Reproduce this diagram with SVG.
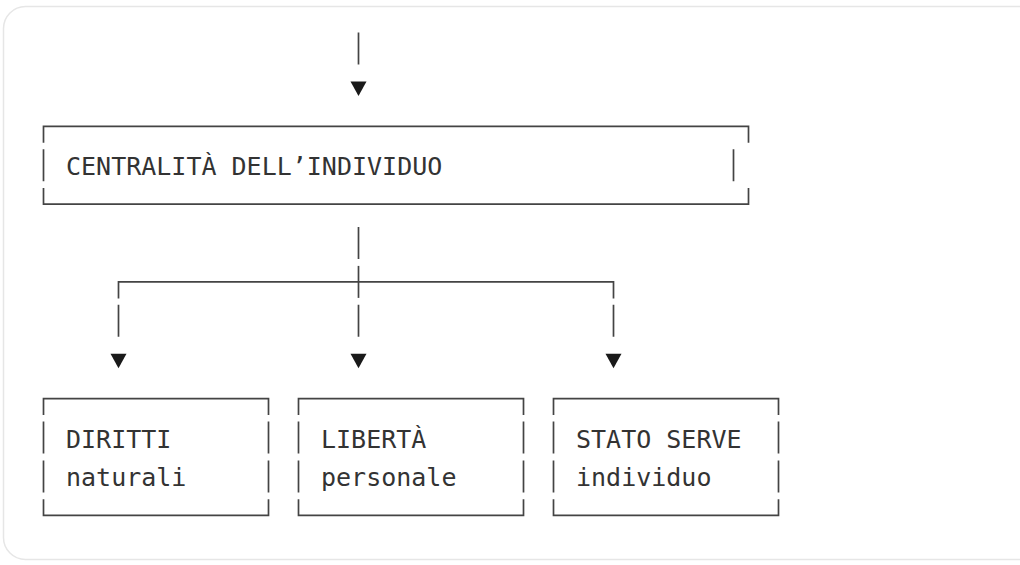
<svg xmlns="http://www.w3.org/2000/svg" width="1020" height="565" viewBox="0 0 1020 565">
<defs>
<style>
.ln{stroke:#444;stroke-width:1.7;fill:none;stroke-linecap:butt}
.ar{fill:#1a1a1a}
.tx{font-family:"DejaVu Sans Mono","Liberation Mono",monospace;font-size:25px;fill:#333}
</style>
</defs>
<rect x="0" y="0" width="1020" height="565" fill="#ffffff"/>
<rect x="3.5" y="6.5" width="1060" height="553" rx="22" ry="22" fill="#ffffff" stroke="#e6e6e6" stroke-width="1.5"/>

<g id="connectors">
  <!-- top incoming arrow -->
  <path class="ln" d="M358.5 32.5V64.5"/>
  <polygon class="ar" points="350.5,81.4 366.5,81.4 358.5,95.9"/>
  <!-- stem from central box -->
  <path class="ln" d="M358.5 227V259"/>
  <!-- branch line -->
  <path class="ln" d="M118.5 298.4V281.9H613.5V298.4"/>
  <path class="ln" d="M358.5 265.9V297.9"/>
  <!-- drops -->
  <path class="ln" d="M118.5 304.8V336.8M358.5 304.8V336.8M613.5 304.8V336.8"/>
  <polygon class="ar" points="110.5,353.7 126.5,353.7 118.5,368.2"/>
  <polygon class="ar" points="350.5,353.7 366.5,353.7 358.5,368.2"/>
  <polygon class="ar" points="605.5,353.7 621.5,353.7 613.5,368.2"/>
</g>

<g id="node-centralita">
  <path class="ln" d="M43.5 142.8V126.3H748.5V142.8"/>
  <path class="ln" d="M43.5 149.2V181.2M733.5 149.2V181.2"/>
  <path class="ln" d="M43.5 188.1V204.1H748.5V188.1"/>
  <text class="tx" x="66" y="175">CENTRALITÀ DELL’INDIVIDUO</text>
</g>

<g id="node-diritti">
  <path class="ln" d="M43.5 415.1V398.6H268.5V415.1"/>
  <path class="ln" d="M43.5 421.5V453.5M268.5 421.5V453.5M43.5 460.4V492.4M268.5 460.4V492.4"/>
  <path class="ln" d="M43.5 499.3V515.3H268.5V499.3"/>
  <text class="tx" x="66" y="447.5">DIRITTI</text>
  <text class="tx" x="66" y="486.4">naturali</text>
</g>

<g id="node-liberta">
  <path class="ln" d="M298.5 415.1V398.6H523.5V415.1"/>
  <path class="ln" d="M298.5 421.5V453.5M523.5 421.5V453.5M298.5 460.4V492.4M523.5 460.4V492.4"/>
  <path class="ln" d="M298.5 499.3V515.3H523.5V499.3"/>
  <text class="tx" x="321" y="447.5">LIBERTÀ</text>
  <text class="tx" x="321" y="486.4">personale</text>
</g>

<g id="node-stato">
  <path class="ln" d="M553.5 415.1V398.6H778.5V415.1"/>
  <path class="ln" d="M553.5 421.5V453.5M778.5 421.5V453.5M553.5 460.4V492.4M778.5 460.4V492.4"/>
  <path class="ln" d="M553.5 499.3V515.3H778.5V499.3"/>
  <text class="tx" x="576" y="447.5">STATO SERVE</text>
  <text class="tx" x="576" y="486.4">individuo</text>
</g>
</svg>
